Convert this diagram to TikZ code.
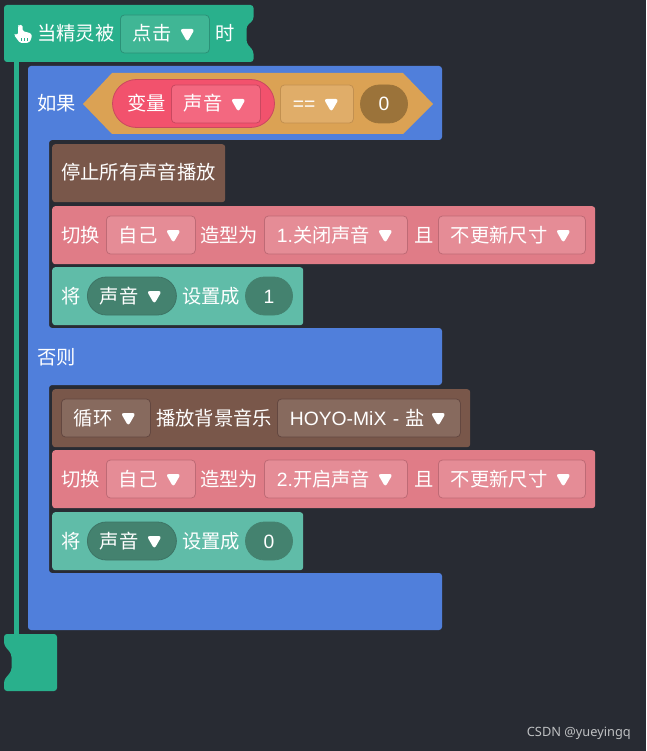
\documentclass[tikz,border=0pt]{standalone}
\usepackage{fontspec}
\setmainfont{Noto Sans CJK SC}
\newfontfamily\markfont{Noto Sans}
\newfontfamily\latinfont{Liberation Sans}
\usetikzlibrary{calc}

\definecolor{pagebg}{HTML}{282B33}
\definecolor{hatgreen}{HTML}{29B08C}
\definecolor{hatfield}{HTML}{40B695}
\definecolor{hatedge}{HTML}{2B9177}
\definecolor{ifblue}{HTML}{507FDB}
\definecolor{condorange}{HTML}{DBA254}
\definecolor{condfield}{HTML}{E0AD69}
\definecolor{condedge}{HTML}{C29050}
\definecolor{condvalue}{HTML}{9B733A}
\definecolor{varred}{HTML}{F2526D}
\definecolor{varfield}{HTML}{F36880}
\definecolor{varedge}{HTML}{C94860}
\definecolor{soundbrown}{HTML}{79574A}
\definecolor{soundfield}{HTML}{876A5E}
\definecolor{soundedge}{HTML}{634740}
\definecolor{lookpink}{HTML}{E07C87}
\definecolor{lookfield}{HTML}{E58C96}
\definecolor{lookedge}{HTML}{BE6A75}
\definecolor{datateal}{HTML}{60BCA8}
\definecolor{datafield}{HTML}{44826F}
\definecolor{dataedge}{HTML}{3D7465}

\tikzset{
  blockbox/.style={anchor=north west,rounded corners=3pt,inner sep=0pt,minimum height=58pt},
  wordbox/.style={anchor=west,inner sep=0pt,text=white,font=\fontsize{19.3}{21}\selectfont,text height=16pt,text depth=2pt},
  fieldbox/.style={anchor=west,draw,line width=0.8pt,rounded corners=4pt,inner xsep=12.5pt,inner ysep=0pt,minimum height=38pt,
    align=left,text=white,font=\fontsize{19.3}{21}\selectfont,text height=16pt,text depth=2pt},
  pillbox/.style={fieldbox,anchor=center,align=center,rounded corners=19pt,inner xsep=0pt},
}
% white drop mark near the right end of a field
\newcommand{\dropmark}[1]{\fill[white,rounded corners=3pt] ($(#1.east)+(-30,-5)$) -- ($(#1.east)+(-15,-5)$) -- ($(#1.east)+(-22.5,8)$) -- cycle;}

\begin{document}
\begin{tikzpicture}[x=1pt,y=-1pt]
\useasboundingbox (0,0) rectangle (646,751);
\fill[pagebg] (0,0) rectangle (646,751);

% Rail and hat
\fill[hatgreen] (13.5,60) rectangle (18.5,636);
\fill[hatgreen,rounded corners=3pt] (4,5) -- (253.5,5) -- (253.5,20) -- (246.5,26) -- (246.5,43) -- (253.5,51) -- (253.5,62) -- (4,62) -- cycle;
\fill[hatgreen,rounded corners=3pt] (4,634) -- (57,634) -- (57,691) -- (4,691) -- (4,680) -- (11.5,671) -- (11.5,654) -- (4,645) -- cycle;

% Pointing hand
\fill[white,rounded corners=1.5pt] (18,26) -- (19,25) -- (22.5,25) -- (22.5,31) -- (31.5,33.5) -- (31.5,39) -- (28.5,43) -- (20,43) -- (14,35) -- (15.5,33.5) -- (18,35) -- cycle;
\fill[hatgreen] (20.5,38.5) rectangle (22,41);
\fill[hatgreen] (23.5,38.5) rectangle (25,41);
\fill[hatgreen] (26.5,38.5) rectangle (28,41);

\node[wordbox] (hatword) at (37,34) {当精灵被};
\node[fieldbox,fill=hatfield,draw=hatedge,text width=64pt] (hatfield) at (120,34) {点击};
\dropmark{hatfield}
\node[wordbox] (hatend) at (215,34) {时};

% If / else body
\fill[ifblue,rounded corners=3pt] (28,66) -- (442,66) -- (442,140) -- (49,140) -- (49,328) -- (442,328) -- (442,385) -- (49,385) -- (49,573) -- (442,573) -- (442,630) -- (28,630) -- cycle;
\node[wordbox] (ifword) at (37,104) {如果};
\node[wordbox] (elseword) at (37,357) {否则};

% Condition
\fill[condorange] (83,104) -- (112,73) -- (403,73) -- (433,104) -- (403,134) -- (112,134) -- cycle;
\draw[varedge,fill=varred,line width=0.8pt,rounded corners=24pt] (112.5,79.5) rectangle (274.5,127.5);
\node[wordbox] (varword) at (127,104) {变量};
\node[fieldbox,fill=varfield,draw=varedge,text width=64pt] (varfield) at (171,104) {声音};
\dropmark{varfield}
\node[fieldbox,fill=condfield,draw=condedge,text width=48pt] (opfield) at (280,104) {\latinfont ==};
\dropmark{opfield}
\node[pillbox,fill=condvalue,draw=condvalue,minimum width=47pt] (condzero) at (384,104) {\latinfont 0};

% First branch
\node[blockbox,fill=soundbrown,minimum width=173pt] (stopblock) at (52,144) {};
\node[wordbox] (stopword) at (61,173) {停止所有声音播放};

\node[blockbox,fill=lookpink,minimum width=543pt] (lookblockA) at (52,206) {};
\node[wordbox] (lookwordA) at (61,235) {切换};
\node[fieldbox,fill=lookfield,draw=lookedge,text width=64pt] (selfA) at (106,235) {自己};
\dropmark{selfA}
\node[wordbox] (lookwordB) at (200,235) {造型为};
\node[fieldbox,fill=lookfield,draw=lookedge,text width=118pt] (costumeA) at (264,235) {{\latinfont 1.}关闭声音};
\dropmark{costumeA}
\node[wordbox] (lookwordC) at (414,235) {且};
\node[fieldbox,fill=lookfield,draw=lookedge,text width=122pt] (sizeA) at (438,235) {不更新尺寸};
\dropmark{sizeA}

\node[blockbox,fill=datateal,minimum width=251pt] (setblockA) at (52,267) {};
\node[wordbox] (setwordA) at (61,296) {将};
\node[fieldbox,fill=datafield,draw=dataedge,rounded corners=19pt,text width=64pt] (soundA) at (87,296) {声音};
\dropmark{soundA}
\node[wordbox] (setwordB) at (182,296) {设置成};
\node[pillbox,fill=datafield,draw=datafield,minimum width=47pt] (valueA) at (269,296) {\latinfont 1};

% Second branch
\node[blockbox,fill=soundbrown,minimum width=418pt] (musicblock) at (52,389) {};
\node[fieldbox,fill=soundfield,draw=soundedge,text width=64pt] (loopfield) at (61,418) {循环};
\dropmark{loopfield}
\node[wordbox] (musicword) at (156,418) {播放背景音乐};
\node[fieldbox,fill=soundfield,draw=soundedge,text width=158pt] (musicfield) at (277,418) {{\latinfont HOYO-MiX - }盐};
\dropmark{musicfield}

\node[blockbox,fill=lookpink,minimum width=543pt] (lookblockB) at (52,450) {};
\node[wordbox] (lookwordD) at (61,479) {切换};
\node[fieldbox,fill=lookfield,draw=lookedge,text width=64pt] (selfB) at (106,479) {自己};
\dropmark{selfB}
\node[wordbox] (lookwordE) at (200,479) {造型为};
\node[fieldbox,fill=lookfield,draw=lookedge,text width=118pt] (costumeB) at (264,479) {{\latinfont 2.}开启声音};
\dropmark{costumeB}
\node[wordbox] (lookwordF) at (414,479) {且};
\node[fieldbox,fill=lookfield,draw=lookedge,text width=122pt] (sizeB) at (438,479) {不更新尺寸};
\dropmark{sizeB}

\node[blockbox,fill=datateal,minimum width=251pt] (setblockB) at (52,512) {};
\node[wordbox] (setwordC) at (61,541) {将};
\node[fieldbox,fill=datafield,draw=dataedge,rounded corners=19pt,text width=64pt] (soundB) at (87,541) {声音};
\dropmark{soundB}
\node[wordbox] (setwordD) at (182,541) {设置成};
\node[pillbox,fill=datafield,draw=datafield,minimum width=47pt] (valueB) at (269,541) {\latinfont 0};

% Watermark
\node[anchor=east,inner sep=0pt,text=white!70!pagebg,font=\markfont\fontsize{12.8}{15}\selectfont] (watermark) at (631,733) {CSDN @yueyingq};
\end{tikzpicture}
\end{document}
